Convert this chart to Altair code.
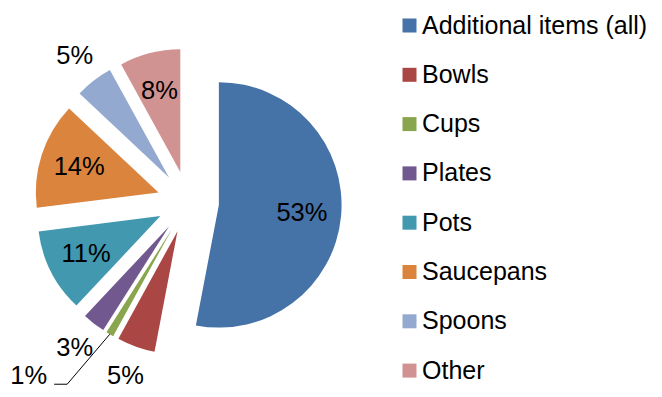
import altair as alt
import pandas as pd

categories = ["Additional items (all)", "Bowls", "Cups", "Plates", "Pots",
              "Saucepans", "Spoons", "Other"]
shares = [53, 5, 1, 3, 11, 14, 5, 8]
labels = ["53%", "5%", "1%", "3%", "11%", "14%", "5%", "8%"]
colors = ["#4572A7", "#AA4643", "#89A54E", "#71588F", "#4198AF",
          "#DB843D", "#93A9CF", "#D19392"]

# layout / style constants
CX, CY = 180, 194          # pie centre inside the plot area (px)
R = 122.7                  # pie radius
EXPLODE = 31               # explosion distance of every slice
FONT = "Liberation Sans"
FS = 25.5

df = pd.DataFrame({"category": categories, "share": shares,
                   "label": labels, "order": list(range(len(categories)))})

base = (
    alt.Chart(df)
    .transform_window(cum="sum(share)", sort=[alt.SortField("order")], frame=[None, 0])
    .transform_joinaggregate(total="sum(share)")
    .transform_calculate(
        t1="2*PI*datum.cum/datum.total",
        t0="2*PI*(datum.cum-datum.share)/datum.total",
    )
    .transform_calculate(mid="(datum.t0+datum.t1)/2")
    .transform_calculate(
        cx=f"{CX}+{EXPLODE}*sin(datum.mid)",
        cy=f"{CY}-{EXPLODE}*cos(datum.mid)",
    )
)

arcs = base.mark_arc(outerRadius=R).encode(
    x=alt.X("cx:Q", scale=None, axis=None),
    y=alt.Y("cy:Q", scale=None, axis=None),
    theta=alt.Theta("t0:Q", scale=None, stack=False),
    theta2="t1:Q",
    color=alt.Color(
        "category:N",
        scale=alt.Scale(domain=categories, range=colors),
        title=None,
        legend=alt.Legend(
            orient="none", legendX=389, legendY=5,
            symbolType="square", symbolSize=196, symbolStrokeWidth=0,
            symbolOpacity=1, labelFont=FONT, labelFontSize=25,
            labelColor="black", labelOffset=0, rowPadding=23.3,
            labelLimit=400, padding=0,
        ),
    ),
)

text_main = (
    base.transform_filter("datum.share >= 2")
    .transform_calculate(lr=f"datum.share >= 8 ? {0.68 * R} : {R + 31}")
    .transform_calculate(
        lx="datum.cx + datum.lr*sin(datum.mid)",
        ly="datum.cy - datum.lr*cos(datum.mid)",
    )
    .mark_text(font=FONT, fontSize=FS, color="black", align="center", baseline="middle")
    .encode(x=alt.X("lx:Q", scale=None, axis=None),
            y=alt.Y("ly:Q", scale=None, axis=None),
            text="label:N")
)

# leader line for very small slices
leader_base = (
    base.transform_filter("datum.share < 2")
    .transform_calculate(
        sx=f"datum.cx + {R}*sin(datum.mid)",
        sy=f"datum.cy - {R}*cos(datum.mid)",
        ex=f"datum.cx + {R + 65}*sin(datum.mid + 0.06)",
        ey=f"datum.cy - {R + 65}*cos(datum.mid + 0.06)",
    )
    .transform_calculate(hx="datum.ex - 13", tx="datum.ex - 20", ty="datum.ey - 8")
)

leader1 = leader_base.mark_rule(color="black", strokeWidth=1).encode(
    x=alt.X("sx:Q", scale=None, axis=None), y=alt.Y("sy:Q", scale=None, axis=None),
    x2="ex:Q", y2="ey:Q")
leader2 = leader_base.mark_rule(color="black", strokeWidth=1).encode(
    x=alt.X("ex:Q", scale=None, axis=None), y=alt.Y("ey:Q", scale=None, axis=None),
    x2="hx:Q", y2="ey:Q")
leader_text = leader_base.mark_text(
    font=FONT, fontSize=FS, color="black", align="right", baseline="middle"
).encode(x=alt.X("tx:Q", scale=None, axis=None),
         y=alt.Y("ty:Q", scale=None, axis=None), text="label:N")

chart = (
    alt.layer(arcs, text_main, leader1, leader2, leader_text)
    .properties(width=646, height=381,
                autosize=alt.AutoSizeParams(type="none"), padding=0)
    .configure_view(strokeWidth=0)
)

chart.save("out.html", embed_options={"renderer": "svg", "actions": False})
